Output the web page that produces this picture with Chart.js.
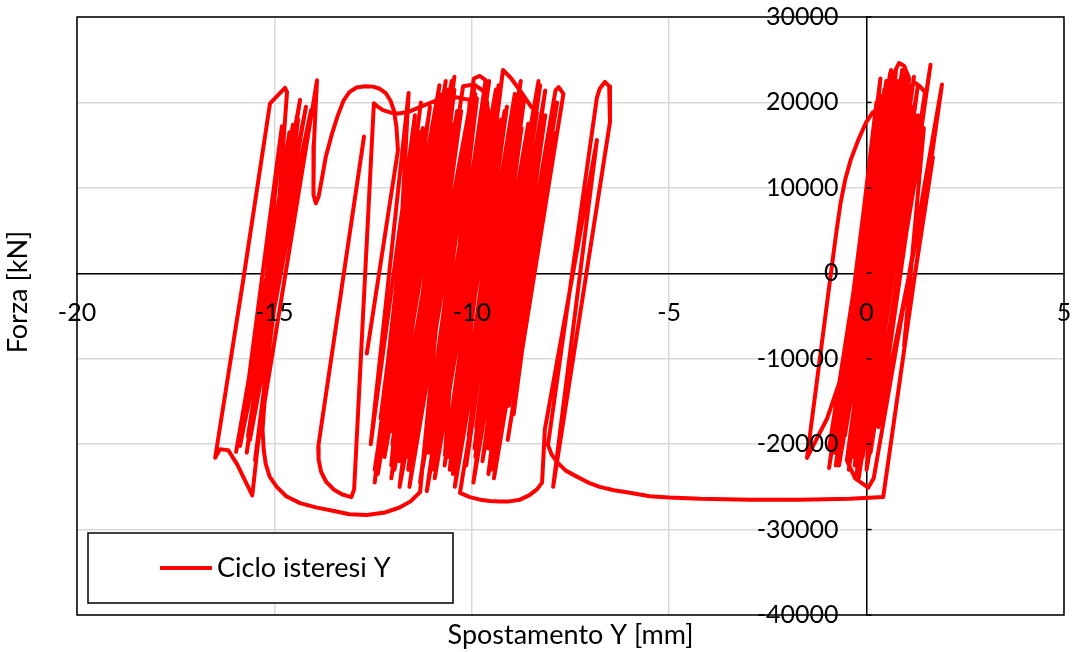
<!DOCTYPE html>
<html>
<head>
<meta charset="utf-8">
<script src="https://cdn.jsdelivr.net/npm/chart.js@4/dist/chart.umd.min.js"></script>
<style>
  html, body { margin: 0; padding: 0; background: #ffffff; }
  canvas { display: block; }
</style>
</head>
<body>
<canvas id="c" width="1073" height="652"></canvas>
<script>
// ---- Data: Spostamento Y [mm] (x) and Forza [kN] (y) ----
const spostamento = [
  0.00, 0.35, 0.60, 0.72, -0.62, 0.62, -0.78, 0.55, -0.95, 0.40,
  -0.55, 0.95, -0.35, 1.10, 0.05, 1.30, -0.25, 0.70, 0.82, 0.95,
  1.08, -0.40, 0.98, -0.10, 1.30, 0.15, 1.10, 1.22, 1.35, 1.48,
  0.10, 1.62, 0.30, 1.68, 0.95, 1.45, 0.00, 0.60, -0.58, -1.00,
  -1.51, -0.85, -0.76, -0.66, -0.54, -0.40, -0.22, -0.02, 0.15, 0.30,
  0.42, -0.95,
  0.50, -0.68, 0.85, -0.20, 1.20, -0.15, 0.90, -0.85, 0.35, -0.45,
  0.80, -0.70, 0.45, -0.40, 1.00, -0.10, 1.15, -0.30, 0.75, -0.80,
  0.25, -0.60, 0.65, -0.20, 1.25, 0.00, 0.90, -0.45, 0.55, -0.75,
  0.80, -0.50, -0.29, 0.04, 0.18, 1.91, 0.42,
  -0.42, -1.69, -2.95, -4.22, -5.00, -5.49, -6.00, -6.40, -6.76, -7.05,
  -7.34, -7.62, -7.84, -7.98, -8.07,
  -6.83, -6.76, -6.63, -6.52, -6.50, -6.50, -7.94, -6.83, -8.15, -8.22,
  -8.35, -8.55, -8.78, -9.05, -9.29, -9.55, -9.79, -10.05, -10.30,
  -8.67, -9.91, -8.40, -9.53, -8.14, -9.51, -7.88, -7.80, -7.68, -9.09,
  -7.86, -9.06, -7.84, -9.44, -8.14, -9.58, -8.27, -9.96, -8.74, -10.08,
  -8.91, -10.48, -9.21, -9.00, -8.78, -8.50, -8.35, -9.50, -8.94, -10.54,
  -9.34, -10.94, -9.56, -11.08, -9.91, -11.58, -10.27, -11.78, -10.44, -12.01,
  -10.81, -12.38, -11.06, -12.24, -10.66, -12.04, -10.52, -11.66, -10.22, -9.95,
  -9.72, -9.62, -9.58, -10.96, -9.67, -11.08, -9.95, -9.80, -9.65, -11.14,
  -9.39, -10.69, -9.17, -10.31, -8.76, -10.14, -9.26, -10.89, -9.87, -11.61,
  -10.44, -12.06, -11.60, -12.56, -11.44, -12.46, -11.31, -12.39, -11.29, -12.31,
  -10.82, -12.04,
  -11.24, -12.24, -10.77, -11.96, -10.41, -11.53, -9.94, -11.31, -9.82, -10.81,
  -9.32, -10.61, -9.11, -10.43, -8.76, -9.89, -8.57, -9.73, -8.17, -9.36,
  -7.92, -8.94, -8.10, -9.58, -8.31, -9.93, -8.94, -10.56, -9.44, -11.09,
  -10.07, -11.83, -10.59, -12.21, -11.11, -12.46, -10.91, -11.99, -10.51, -11.83,
  -10.37,
  -11.31, -11.55, -11.82, -12.20, -12.66, -13.10, -13.52, -13.95, -14.35, -14.70,
  -14.94, -15.12, -15.22, -15.27, -15.30, -14.68, -14.73, -15.11, -15.79, -16.50,
  -16.38, -16.17, -15.94, -15.56,
  -14.53, -15.97, -14.35, -15.67, -14.20, -15.87, -14.81, -15.62, -14.07, -15.80,
  -14.62, -15.70, -14.40, -15.49,
  -13.92, -13.96, -14.00, -14.02, -14.00, -13.95, -13.88, -13.80, -13.70, -13.55,
  -13.40, -13.25, -13.10, -12.92, -12.70, -12.50, -12.33, -12.18, -12.06, -11.97,
  -11.91, -11.87, -12.66, null,
  -12.73, -13.89, -13.88, -13.82, -13.69, -13.50, -13.28, -13.05, -12.98, -12.48,
  -12.38, -12.25, -12.05, -11.85, -11.60, -11.29, -10.86, -10.40, -10.05, -10.68
];
const forza = [
  0, 10500, 18500, 21800, -20500, 23800, -22500, 21500, -22800, 20800,
  -19000, 22600, -21500, 21000, -19000, 18500, -23500, 23500, 24600, 24300,
  22800, -21500, 20000, -18500, 22000, -17500, 21800, 22300, 21900, 21200,
  -21000, 24400, -18000, 13600, -8500, 17000, -23000, 23500, -11300, -17000,
  -21600, 1900, 5000, 8200, 11000, 13300, 15500, 17600, 18800, 19300,
  19000, -20500,
  22500, -22000, 21000, -20000, 23000, -22000, 16500, -21000, 22800, -16000,
  20500, -22500, 21500, -19500, 23500, -21500, 19500, -22500, 24000, -21000,
  20000, -18000, 22500, -24000, 20500, -20000, 23800, -23000, 19000, -20000,
  22500, -21900, -24000, -25100, -24000, 22100, -26200,
  -26400, -26500, -26500, -26400, -26250, -26100, -25700, -25400, -25000, -24500,
  -23800, -23100, -22100, -21200, -20100,
  20600, 21600, 22400, 21900, 20800, 17700, -25000, 15600, -18300, -24500,
  -25300, -26000, -26500, -26700, -26700, -26650, -26500, -26200, -25700,
  20500, -21500, 19800, -17500, 21400, -23000, 21400, 21800, 21000, -19500,
  16500, -15500, 20000, -24000, 18500, -20500, 22000, -24500, 17000, -19000,
  21000, -23500, 23800, 22800, 21400, 19500, 18800, -16000, 15500, -21000,
  20000, -24000, 22500, -19000, 21000, -25000, 19000, -22000, 23000, -20000,
  21000, -23500, 19500, -21000, 22500, -24000, 17500, -21500, 21900, 22100,
  21400, 20200, 18800, -23000, 20500, -17500, 22800, 23100, 22600, -25500,
  21500, -22500, 19000, -20000, 22500, -22500, 18000, -19500, 20500, -23000,
  21500, -18500, 21100, -20000, 18500, -24500, 16500, -21000, 20000, -17000,
  22000, -22500,
  17000, -19500, 20500, -23000, 18000, -20500, 21500, -24500, 16000, -18500,
  22000, -21500, 19500, -25000, 21000, -18000, 17500, -22000, 20500, -20000,
  19000, -16500, 15000, -23500, 22500, -20500, 18500, -23000, 20000, -21000,
  19000, -25000, 21500, -21500, 18000, -23000, 19500, -18000, 22500, -22000,
  19000,
  -25600, -26700, -27400, -28000, -28300, -28200, -27800, -27400, -26900, -26100,
  -25000, -23800, -22300, -20700, -18300, 21200, 21700, 19900, -800, -21600,
  -20600, -20700, -22400, -26000,
  17400, -20900, 20300, -19100, 19500, -20200, 17200, -19500, 19100, -18500,
  16500, -21000, 18000, -21900,
  22600, 19000, 15000, 11500, 9200, 8200, 9000, 11000, 13600, 16200,
  18400, 20200, 21200, 21750, 21900, 21850, 21600, 21100, 20200, 19000,
  17200, 14400, -9400, null,
  16000, -20300, -21800, -23200, -24400, -25300, -25900, -26200, -25300, 19900,
  19500, 19100, 18800, 18700, 18900, 19500, 20300, 20600, 20300, -21300
];
const xTicks = { min: -20, max: 5, step: 5 };
const yTicks = { min: -40000, max: 30000, step: 10000 };
const seriesLabel = 'Ciclo isteresi Y';
const xTitle = 'Spostamento Y [mm]';
const yTitle = 'Forza [kN]';

const FONT = "Lato, 'Open Sans', sans-serif";
const points = spostamento.map((v, i) => ({ x: v, y: forza[i] }));

const excelDecor = {
  id: 'excelDecor',
  afterDatasetsDraw(chart) {
    const { ctx, chartArea: a, scales } = chart;
    const xs = scales.x, ys = scales.y;
    const x0 = xs.getPixelForValue(0), y0 = ys.getPixelForValue(0);
    ctx.save();
    ctx.strokeStyle = '#000'; ctx.lineWidth = 1.5;
    ys.ticks.forEach(t => {
      const py = ys.getPixelForValue(t.value);
      ctx.beginPath(); ctx.moveTo(x0, py); ctx.lineTo(x0 + 5, py); ctx.stroke();
    });
    ctx.strokeRect(a.left, a.top, a.right - a.left, a.bottom - a.top);
    ctx.fillStyle = '#000';
    ctx.font = '25px ' + FONT;
    ctx.textBaseline = 'middle';
    ctx.textAlign = 'center';
    xs.ticks.forEach(t => ctx.fillText(String(t.value), xs.getPixelForValue(t.value), y0 + 40));
    ctx.textAlign = 'right';
    ys.ticks.forEach(t => ctx.fillText(String(t.value), x0 - 28, ys.getPixelForValue(t.value)));
    ctx.font = '27px ' + FONT;
    ctx.textAlign = 'center';
    ctx.fillText(xTitle, (a.left + a.right) / 2, 635);
    ctx.save();
    ctx.translate(18, 292);
    ctx.rotate(-Math.PI / 2);
    ctx.fillText(yTitle, 0, 0);
    ctx.restore();
    ctx.fillStyle = '#fff';
    ctx.fillRect(88, 533, 365, 70);
    ctx.strokeStyle = '#000'; ctx.lineWidth = 1.5;
    ctx.strokeRect(88, 533, 365, 70);
    const ds = chart.data.datasets[0];
    ctx.strokeStyle = ds.borderColor; ctx.lineWidth = 4;
    ctx.beginPath(); ctx.moveTo(160, 568); ctx.lineTo(212, 568); ctx.stroke();
    ctx.fillStyle = '#000';
    ctx.textAlign = 'left';
    ctx.fillText(ds.label, 217, 568);
    ctx.restore();
  }
};

new Chart(document.getElementById('c'), {
  type: 'scatter',
  data: {
    datasets: [{
      label: seriesLabel,
      data: points,
      showLine: true,
      spanGaps: false,
      borderColor: '#ff0000',
      backgroundColor: '#ff0000',
      borderWidth: 4,
      pointRadius: 0,
      tension: 0,
      borderJoinStyle: 'round',
      borderCapStyle: 'round'
    }]
  },
  options: {
    responsive: false,
    devicePixelRatio: 1,
    animation: false,
    layout: { padding: { left: 77, top: 17, right: 9, bottom: 37 } },
    plugins: { legend: { display: false }, tooltip: { enabled: false } },
    scales: {
      x: {
        type: 'linear',
        position: { y: 0 },
        min: xTicks.min, max: xTicks.max,
        ticks: { stepSize: xTicks.step, display: false },
        grid: { color: '#d9d9d9', lineWidth: 1.5, drawTicks: false },
        border: { display: true, color: '#000', width: 1.5 }
      },
      y: {
        type: 'linear',
        position: { x: 0 },
        min: yTicks.min, max: yTicks.max,
        ticks: { stepSize: yTicks.step, display: false },
        grid: { color: '#d9d9d9', lineWidth: 1.5, drawTicks: false },
        border: { display: true, color: '#000', width: 1.5 }
      }
    }
  },
  plugins: [excelDecor]
});
</script>
</body>
</html>
